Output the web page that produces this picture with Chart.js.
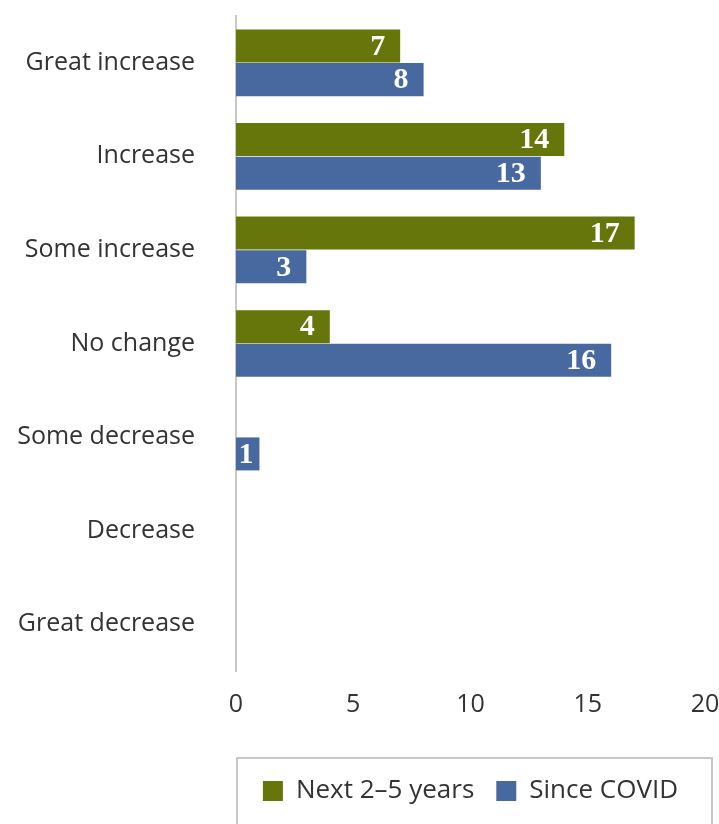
<!DOCTYPE html>
<html>
<head>
<meta charset="utf-8">
<script src="https://cdn.jsdelivr.net/npm/chart.js@4.4.0/dist/chart.umd.min.js"></script>
<style>
  html, body { margin: 0; padding: 0; background: #fff; }
  #wrap { width: 719px; height: 824px; }
</style>
</head>
<body>
<div id="wrap"><canvas id="chart"></canvas></div>
<script>
// categories and values
const categories = ['Great increase', 'Increase', 'Some increase', 'No change', 'Some decrease', 'Decrease', 'Great decrease'];
const nextYears = [7, 14, 17, 4, null, null, null];
const sinceCovid = [8, 13, 3, 16, 1, null, null];
const xTicks = [0, 5, 10, 15, 20];

const green = '#66760a';
const blue = '#4869a0';
const textColor = '#333333';
const tickFont = { family: 'Open Sans', size: 25 };

// white bold numbers inside the end of each bar
const barLabels = {
    id: 'barLabels',
    afterDatasetsDraw(chart) {
        const ctx = chart.ctx;
        ctx.save();
        ctx.font = 'bold 30px "Liberation Serif"';
        ctx.fillStyle = '#ffffff';
        ctx.textAlign = 'right';
        ctx.textBaseline = 'middle';
        chart.data.datasets.forEach((ds, i) => {
            chart.getDatasetMeta(i).data.forEach((bar, j) => {
                const v = ds.data[j];
                if (v == null) return;
                const pad = v < 2 ? 6 : 15;
                ctx.fillText(String(v), bar.x - pad, bar.y + 1);
            });
        });
        ctx.restore();
    }
};

// grey frame round the legend
const legendFrame = {
    id: 'legendFrame',
    afterDraw(chart) {
        const ctx = chart.ctx;
        const lg = chart.legend;
        ctx.save();
        ctx.strokeStyle = '#c8c8c8';
        ctx.lineWidth = 2;
        ctx.strokeRect(chart.chartArea.left + 1, lg.top + 2, chart.width - 8 - chart.chartArea.left, 100);
        ctx.restore();
    }
};

new Chart(document.getElementById('chart'), {
    type: 'bar',
    data: {
        labels: categories,
        datasets: [
            { label: 'Next 2\u20135 years', data: nextYears, backgroundColor: green },
            { label: 'Since COVID', data: sinceCovid, backgroundColor: blue }
        ]
    },
    options: {
        indexAxis: 'y',
        responsive: true,
        maintainAspectRatio: false,
        animation: false,
        categoryPercentage: 0.72,
        barPercentage: 0.98,
        layout: { padding: { top: 16, right: 14, left: 0, bottom: 10 } },
        scales: {
            x: {
                min: 0,
                max: 20,
                afterBuildTicks(scale) { scale.ticks = xTicks.map(v => ({ value: v })); },
                grid: { display: false },
                border: { display: false },
                ticks: { color: textColor, font: tickFont, padding: 11 },
                afterFit(scale) { scale.height = 85; scale.paddingLeft = 0; scale.paddingRight = 0; }
            },
            y: {
                grid: { display: false },
                border: { display: true, color: '#c8c8c8', width: 2 },
                ticks: { color: textColor, font: tickFont, padding: 33 },
                afterFit(scale) { scale.width = 236; scale.paddingTop = 0; scale.paddingBottom = 0; }
            }
        },
        plugins: {
            legend: {
                position: 'bottom',
                fullSize: false,
                labels: {
                    color: textColor,
                    font: { family: 'Open Sans', size: 26 },
                    boxWidth: 20,
                    boxHeight: 20,
                    padding: 22
                }
            },
            tooltip: { enabled: false }
        }
    },
    plugins: [barLabels, legendFrame]
});
</script>
</body>
</html>
